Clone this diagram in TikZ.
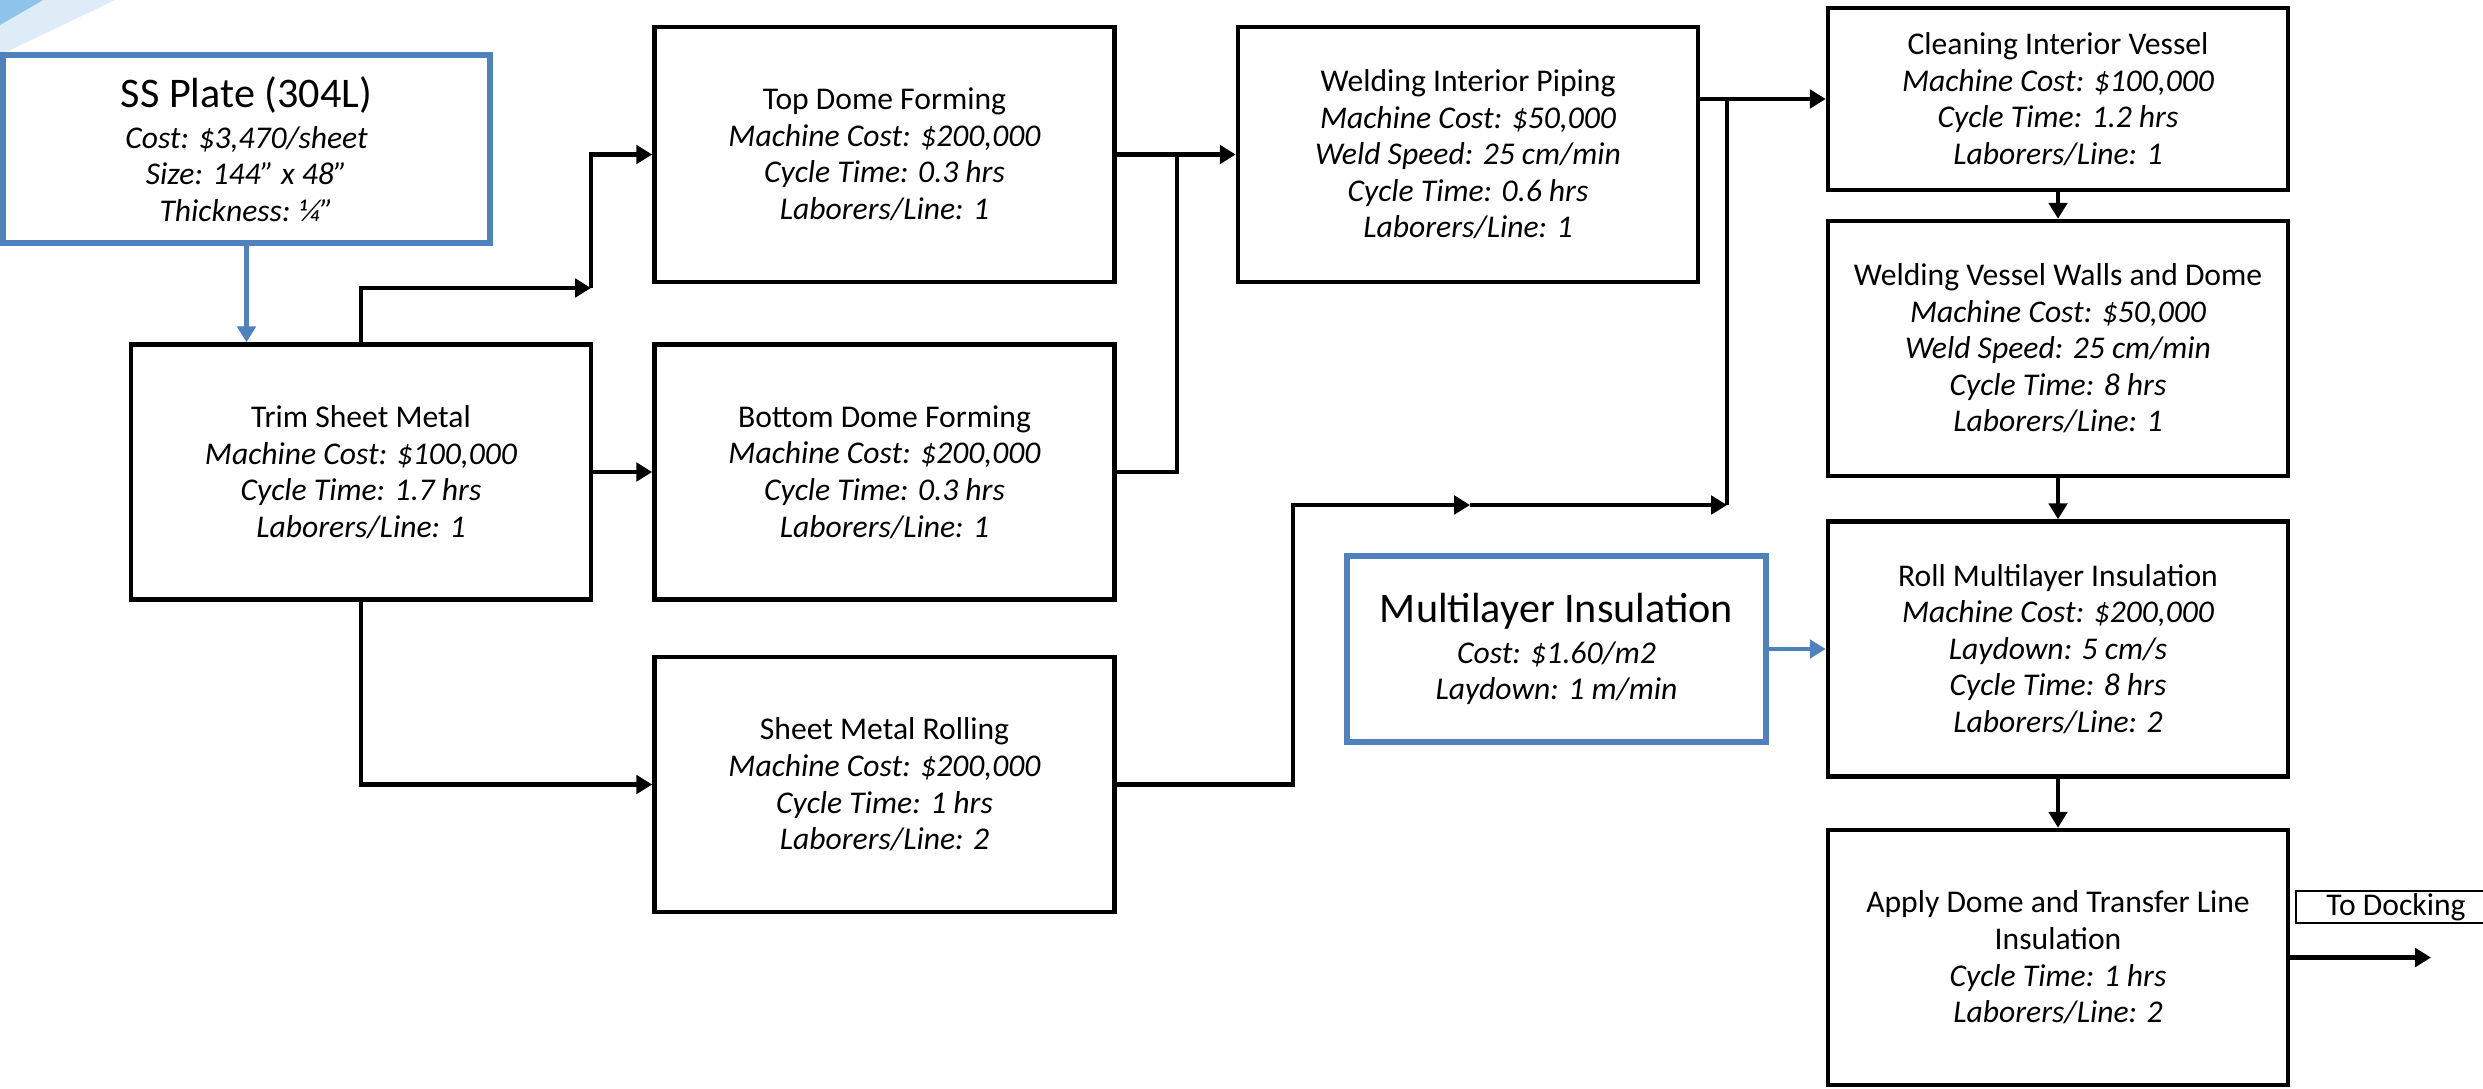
\documentclass[tikz,border=0pt]{standalone}
\usepackage{fontspec}
\setmainfont{Carlito}
\usepackage{tikz}
\usetikzlibrary{arrows.meta, positioning, calc}

\definecolor{slideblue}{RGB}{79,129,189}
\definecolor{swooshdark}{RGB}{142,195,234}
\definecolor{swooshlight}{RGB}{222,236,248}

\newcommand{\bodysize}{\fontsize{9}{10.4}\selectfont}
\newcommand{\titlesize}{\fontsize{12}{14}\selectfont}

\begin{document}
\begin{tikzpicture}[>={Triangle[length=4.5pt,width=5.2pt]},
  stepbox/.style={draw, line width=1.3pt, minimum width=4.6cm, minimum height=2.55cm,
    align=center, inner sep=1pt, font=\bodysize},
  rawbox/.style={draw=slideblue, line width=1.5pt, align=center, inner sep=1pt, font=\bodysize},
  flow/.style={line width=1.2pt},
  feed/.style={draw=slideblue, line width=1.3pt, ->}]
  \useasboundingbox (0,0) rectangle (24.83,-10.88);
  % Slide corner
  \fill[swooshlight] (0,0) -- (1.15,0) -- (0,-0.55) -- cycle;
  \fill[swooshdark] (0,0) -- (0.43,0) -- (0,-0.25) -- cycle;

  % Raw materials
  \node[rawbox, minimum width=4.87cm, minimum height=1.88cm] (plate) at (2.465,-1.49)
    {{\titlesize SS Plate (304L)}\\[1.3pt] \textit{Cost: \$3,470/sheet}\\ \textit{Size: 144” x 48”}\\ \textit{Thickness: ¼”}};
  \node[rawbox, minimum width=4.19cm, minimum height=1.86cm] (mli) at (15.565,-6.49)
    {{\titlesize Multilayer Insulation}\\[1.3pt] \textit{Cost: \$1.60/m2}\\ \textit{Laydown: 1 m/min}};

  % Process steps
  \node[stepbox] (trim) at (3.61,-4.72)
    {Trim Sheet Metal\\ \textit{Machine Cost: \$100,000}\\ \textit{Cycle Time: 1.7 hrs}\\ \textit{Laborers/Line: 1}};
  \node[stepbox] (topdome) at (8.845,-1.545)
    {Top Dome Forming\\ \textit{Machine Cost: \$200,000}\\ \textit{Cycle Time: 0.3 hrs}\\ \textit{Laborers/Line: 1}};
  \node[stepbox] (botdome) at (8.845,-4.72)
    {Bottom Dome Forming\\ \textit{Machine Cost: \$200,000}\\ \textit{Cycle Time: 0.3 hrs}\\ \textit{Laborers/Line: 1}};
  \node[stepbox] (rolling) at (8.845,-7.845)
    {Sheet Metal Rolling\\ \textit{Machine Cost: \$200,000}\\ \textit{Cycle Time: 1 hrs}\\ \textit{Laborers/Line: 2}};
  \node[stepbox] (piping) at (14.68,-1.545)
    {Welding Interior Piping\\ \textit{Machine Cost: \$50,000}\\ \textit{Weld Speed: 25 cm/min}\\ \textit{Cycle Time: 0.6 hrs}\\ \textit{Laborers/Line: 1}};
  \node[stepbox, minimum height=1.82cm] (cleaning) at (20.58,-0.99)
    {Cleaning Interior Vessel\\ \textit{Machine Cost: \$100,000}\\ \textit{Cycle Time: 1.2 hrs}\\ \textit{Laborers/Line: 1}};
  \node[stepbox] (vessel) at (20.58,-3.485)
    {Welding Vessel Walls and Dome\\ \textit{Machine Cost: \$50,000}\\ \textit{Weld Speed: 25 cm/min}\\ \textit{Cycle Time: 8 hrs}\\ \textit{Laborers/Line: 1}};
  \node[stepbox] (roll) at (20.58,-6.49)
    {Roll Multilayer Insulation\\ \textit{Machine Cost: \$200,000}\\ \textit{Laydown: 5 cm/s}\\ \textit{Cycle Time: 8 hrs}\\ \textit{Laborers/Line: 2}};
  \node[stepbox] (apply) at (20.58,-9.575)
    {Apply Dome and Transfer Line\\ Insulation\\ \textit{Cycle Time: 1 hrs}\\ \textit{Laborers/Line: 2}};
  \node[draw, line width=0.5pt, minimum width=2cm, minimum height=0.32cm, inner sep=0pt,
    font=\bodysize] (docking) at (23.96,-9.07) {To Docking};

  % Flow
  \coordinate (fork) at (5.91,-2.88);
  \coordinate (domejoin) at (11.77,-1.545);
  \coordinate (rollturn) at (12.93,-5.05);
  \coordinate (mlimid) at (14.70,-5.05);
  \coordinate (pipejoin) at (17.27,-5.05);
  \coordinate (exit) at (24.31,-9.575);

  \draw[feed] (plate.south) -- (plate.south |- trim.north);
  \draw[flow, ->] (trim.north) |- (fork);
  \draw[flow, ->] (fork) |- (topdome.west);
  \draw[flow, ->] (trim.east) -- (botdome.west);
  \draw[flow, ->] (trim.south) |- (rolling.west);
  \draw[flow, ->] (topdome.east) -- (piping.west);
  \draw[flow] (botdome.east) -| (domejoin);
  \draw[flow, ->] (rolling.east) -| (rollturn) -- (mlimid);
  \draw[flow, ->] (mlimid) -- (pipejoin);
  \draw[flow] (pipejoin) -- (pipejoin |- cleaning.west);
  \draw[flow, ->] (piping.east |- cleaning.west) -- (cleaning.west);
  \foreach \a/\b in {cleaning/vessel, vessel/roll, roll/apply}
    \draw[flow, ->] (\a.south) -- (\b.north);
  \draw[feed] (mli.east) -- (roll.west);
  \draw[flow, ->] (apply.east) -- (exit);
\end{tikzpicture}
\end{document}
